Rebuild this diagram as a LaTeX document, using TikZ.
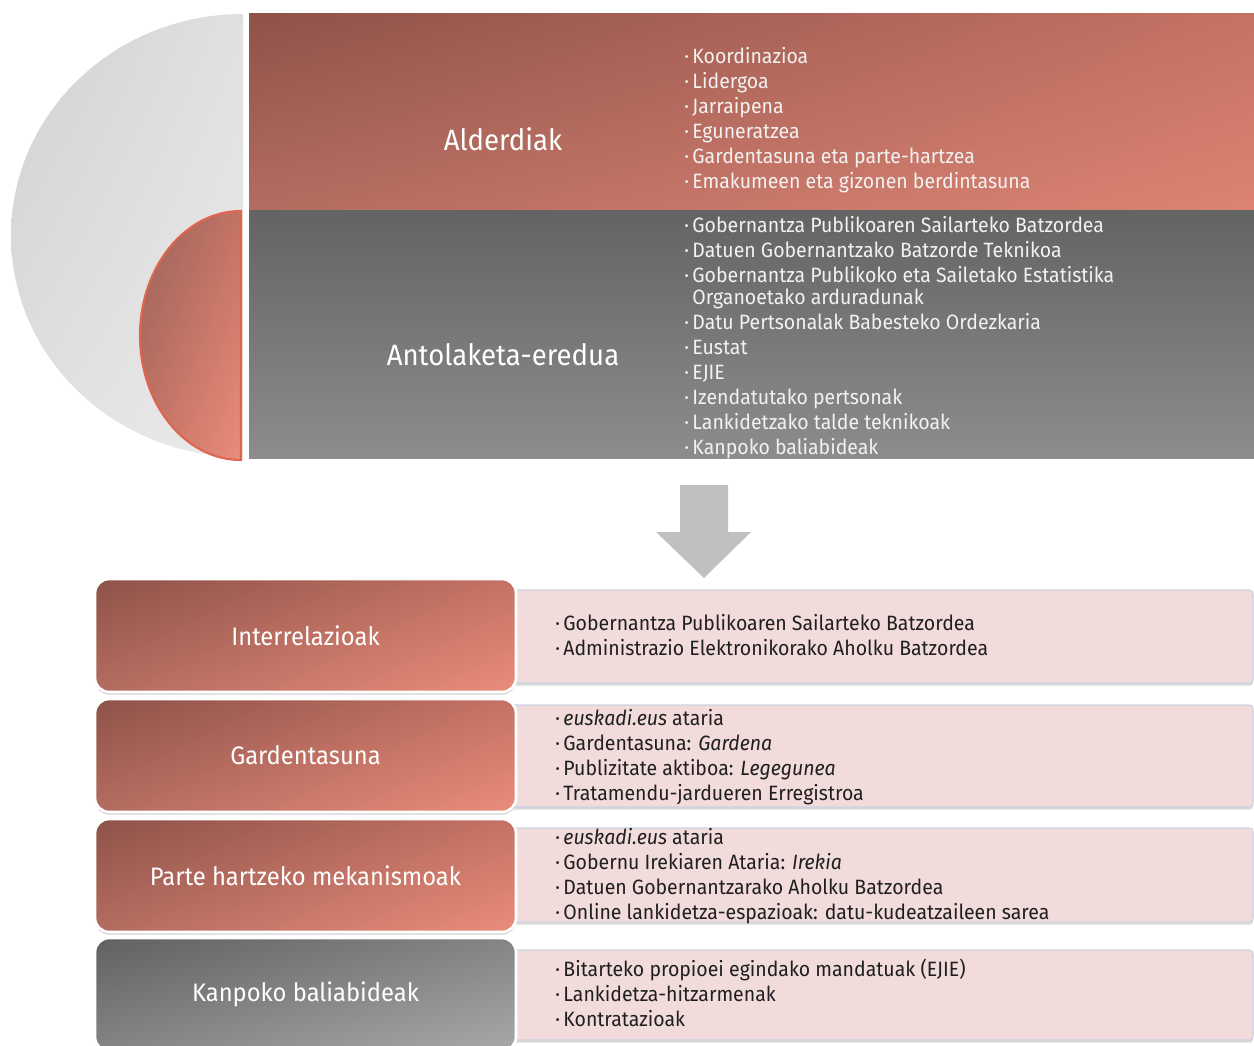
\documentclass[tikz,border=0pt]{standalone}
\usepackage{fontspec}
\setmainfont[FakeStretch=0.94]{Fira Sans}
\usetikzlibrary{shadows,shadings}

\definecolor{reddark}{HTML}{8E5249}
\definecolor{redmid}{HTML}{C47264}
\definecolor{redlow}{HTML}{B46C60}
\definecolor{redlight}{HTML}{EA8D7B}
\definecolor{redline}{HTML}{E0654F}
\definecolor{pinkfill}{HTML}{F2DCDB}
\definecolor{pinkline}{HTML}{CDD2E4}
\definecolor{arrowgray}{HTML}{C0C0C0}

\newcommand\itemdot{\makebox[4.6pt][l]{·}}

\begin{document}
\begin{tikzpicture}[x=0.02cm,y=0.02cm]
    \tikzstyle{redbox}=[rectangle, rounded corners=8pt, draw=white, line width=1.5pt,
                        upper left=reddark, upper right=redmid, lower left=redlow, lower right=redlight,
                        drop shadow={shadow xshift=0pt, shadow yshift=-1.5pt, opacity=.35},
                        minimum width=8.42cm, minimum height=2.26cm, text=white,
                        font=\fontsize{14.4}{17}\selectfont]
    \tikzstyle{graybox}=[redbox, upper left=black!62, upper right=black!48, lower left=black!48, lower right=black!34]
    \tikzstyle{pinkbox}=[rounded corners=2pt, fill=pinkfill, draw=pinkline, line width=.6pt,
                         drop shadow={shadow xshift=0pt, shadow yshift=-1.5pt, opacity=.3}]
    \tikzstyle{toplist}=[anchor=base west, align=left, inner sep=0pt, text=white!95!black,
                         font=\fontsize{11.8}{14.2}\selectfont]
    \tikzstyle{lowlist}=[toplist, text=black!88]
    \tikzstyle{toplabel}=[text=white, font=\fontsize{16.7}{19}\selectfont]

    \useasboundingbox (0,0) rectangle (1254,-1045);

    % half discs
    \shade[upper left=black!18, upper right=black!12, lower left=black!12, lower right=black!8]
        (243,-14) arc[start angle=90, end angle=270, x radius=232, y radius=221.5] -- cycle;
    \shade[upper left=reddark!90, upper right=redmid, lower left=redmid, lower right=redlight]
        (241,-211) arc[start angle=90, end angle=270, x radius=101, y radius=124.5] -- cycle;
    \draw[redline, line width=1.2pt]
        (241,-211) arc[start angle=90, end angle=270, x radius=101, y radius=124.5] -- cycle;

    % top bands
    \shade[upper left=reddark, upper right=redmid, lower left=redlow, lower right=redlight!65!redmid]
        (249,-13) rectangle (1254,-210);
    \shade[top color=black!61, bottom color=black!45] (249,-210) rectangle (1254,-458);

    \node[toplabel] (alderdiak) at (503,-139) {Alderdiak};
    \node[toplabel] (antolaketa) at (503,-355) {Antolaketa-eredua};

    \node[toplist] (alderdiaklist) at (684,-188.5) {\itemdot Koordinazioa\\
        \itemdot Lidergoa\\
        \itemdot Jarraipena\\
        \itemdot Eguneratzea\\
        \itemdot Gardentasuna eta parte-hartzea\\
        \itemdot Emakumeen eta gizonen berdintasuna};
    \node[toplist] (antolaketalist) at (684,-454.5) {\itemdot Gobernantza Publikoaren Sailarteko Batzordea\\
        \itemdot Datuen Gobernantzako Batzorde Teknikoa\\
        \itemdot Gobernantza Publikoko eta Sailetako Estatistika\\[-1.7pt]
        \hspace*{4.6pt}Organoetako arduradunak\\
        \itemdot Datu Pertsonalak Babesteko Ordezkaria\\
        \itemdot Eustat\\
        \itemdot EJIE\\
        \itemdot Izendatutako pertsonak\\
        \itemdot Lankidetzako talde teknikoak\\
        \itemdot Kanpoko baliabideak};

    % arrow
    \fill[arrowgray] (680,-485) -- (728,-485) -- (728,-532) -- (751,-532) -- (704,-578)
                     -- (656,-532) -- (680,-532) -- cycle;

    % right hand boxes
    \draw[pinkbox] (505,-590) rectangle (1253,-683);
    \draw[pinkbox] (505,-705) rectangle (1253,-807);
    \draw[pinkbox] (505,-828) rectangle (1253,-922);
    \draw[pinkbox] (505,-950) rectangle (1253,-1040);

    % left hand boxes
    \node[redbox] (interrelazioak) at (305.5,-635.5) {Interrelazioak};
    \node[redbox] (gardentasuna) at (305.5,-755.5) {Gardentasuna};
    \node[redbox] (partehartzea) at (305.5,-875.5) {Parte hartzeko mekanismoak};
    \node[graybox] (kanpoko) at (305.5,-994.5) {Kanpoko baliabideak};

    \node[lowlist] (interlist) at (555,-655.5) {\itemdot Gobernantza Publikoaren Sailarteko Batzordea\\
        \itemdot Administrazio Elektronikorako Aholku Batzordea};
    \node[lowlist] (gardenlist) at (555,-800.5) {\itemdot\textit{euskadi.eus} ataria\\
        \itemdot Gardentasuna: \textit{Gardena}\\
        \itemdot Publizitate aktiboa: \textit{Legegunea}\\
        \itemdot Tratamendu-jardueren Erregistroa};
    \node[lowlist] (partelist) at (555,-919.5) {\itemdot\textit{euskadi.eus} ataria\\
        \itemdot Gobernu Irekiaren Ataria: \textit{Irekia}\\
        \itemdot Datuen Gobernantzarako Aholku Batzordea\\
        \itemdot Online lankidetza-espazioak: datu-kudeatzaileen sarea};
    \node[lowlist] (kanpolist) at (555,-1026.5) {\itemdot Bitarteko propioei egindako mandatuak (EJIE)\\
        \itemdot Lankidetza-hitzarmenak\\
        \itemdot Kontratazioak};

\end{tikzpicture}
\end{document}
